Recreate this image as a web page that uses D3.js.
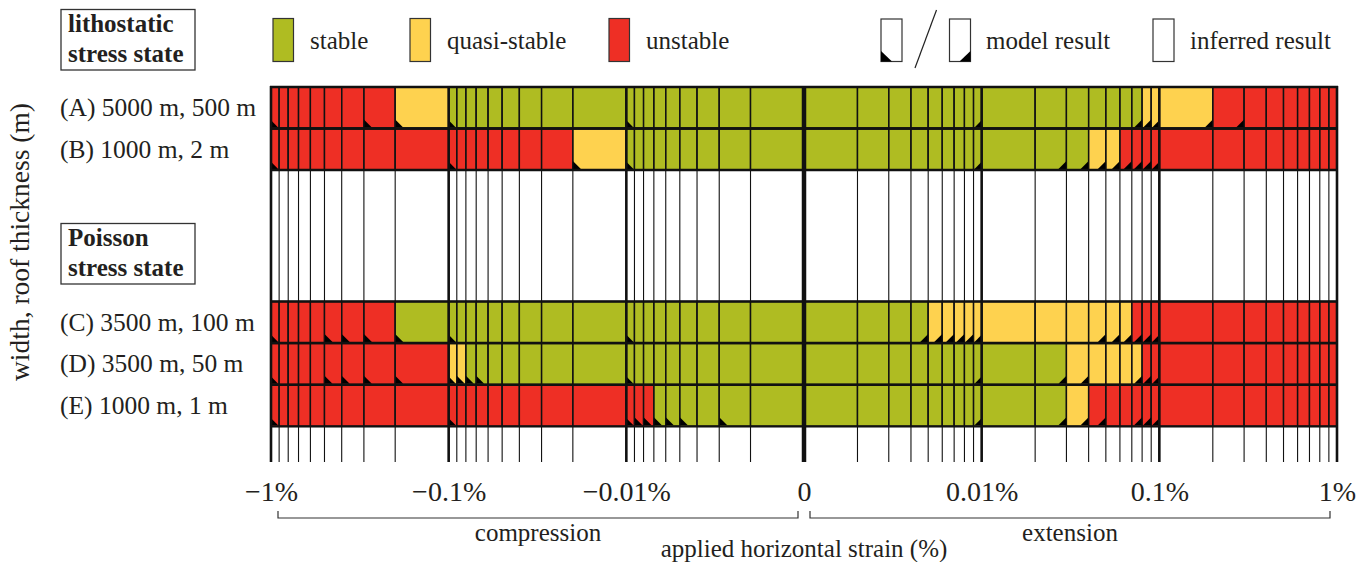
<!DOCTYPE html>
<html>
<head>
<meta charset="utf-8">
<script src="https://cdn.jsdelivr.net/npm/d3@7"></script>
<style>
  body { margin: 0; background: #fff; }
  svg { display: block; font-family: "Liberation Serif", "Times New Roman", serif; fill: #231f20; }
</style>
</head>
<body>
<svg id="chart" width="1367" height="562"></svg>
<script>
// tested horizontal strains (%), compression side then extension side
var strainsNeg = [-1, -0.9, -0.8, -0.7, -0.6, -0.5, -0.4, -0.3, -0.2,
                  -0.1, -0.09, -0.08, -0.07, -0.06, -0.05, -0.04, -0.03, -0.02,
                  -0.01, -0.009, -0.008, -0.007, -0.006, -0.005, -0.004, -0.003, -0.002];
var strainsPos = [0.002, 0.003, 0.004, 0.005, 0.006, 0.007, 0.008, 0.009, 0.01,
                  0.02, 0.03, 0.04, 0.05, 0.06, 0.07, 0.08, 0.09, 0.1,
                  0.2, 0.3, 0.4, 0.5, 0.6, 0.7, 0.8, 0.9, 1];

var rowKeys = ["A", "B", "C", "D", "E"];
var rowLabels = ["(A) 5000 m, 500 m", "(B) 1000 m, 2 m", "(C) 3500 m, 100 m", "(D) 3500 m, 50 m", "(E) 1000 m, 1 m"];

// s = stable, q = quasi-stable, u = unstable; one entry per strain, same order as above
var stateA = ["u","u","u","u","u","u","u","u","q", "s","s","s","s","s","s","s","s","s", "s","s","s","s","s","s","s","s","s",
              "s","s","s","s","s","s","s","s","s", "s","s","s","s","s","s","s","q","q", "q","u","u","u","u","u","u","u","u"];
var stateB = ["u","u","u","u","u","u","u","u","u", "u","u","u","u","u","u","u","u","q", "s","s","s","s","s","s","s","s","s",
              "s","s","s","s","s","s","s","s","s", "s","s","s","q","q","u","u","u","u", "u","u","u","u","u","u","u","u","u"];
var stateC = ["u","u","u","u","u","u","u","u","s", "s","s","s","s","s","s","s","s","s", "s","s","s","s","s","s","s","s","s",
              "s","s","s","s","q","q","q","q","q", "q","q","q","q","q","q","u","u","u", "u","u","u","u","u","u","u","u","u"];
var stateD = ["u","u","u","u","u","u","u","u","u", "q","q","s","s","s","s","s","s","s", "s","s","s","s","s","s","s","s","s",
              "s","s","s","s","s","s","s","s","s", "s","s","q","q","q","q","q","u","u", "u","u","u","u","u","u","u","u","u"];
var stateE = ["u","u","u","u","u","u","u","u","u", "u","u","u","u","u","u","u","u","u", "u","u","u","s","s","s","s","s","s",
              "s","s","s","s","s","s","s","s","s", "s","s","q","u","u","u","u","u","u", "u","u","u","u","u","u","u","u","u"];

// strains that were actually run in the model (the rest is inferred)
var modelA = [-1, -0.3, -0.2, -0.1, -0.01, 0.01, 0.08, 0.09, 0.1, 0.2, 0.3];
var modelB = [-1, -0.1, -0.02, -0.01, 0.01, 0.03, 0.04, 0.05, 0.06, 0.07, 0.08, 0.09, 0.1];
var modelC = [-1, -0.5, -0.4, -0.3, -0.2, -0.1, -0.01, 0.005, 0.006, 0.007, 0.008, 0.009, 0.01, 0.05, 0.06, 0.07, 0.08, 0.09, 0.1];
var modelD = [-1, -0.5, -0.4, -0.3, -0.2, -0.1, -0.09, -0.08, -0.07, -0.01, 0.01, 0.03, 0.04, 0.08, 0.09, 0.1];
var modelE = [-1, -0.1, -0.01, -0.009, -0.008, -0.007, -0.006, -0.005, -0.003, 0.01, 0.03, 0.04, 0.05, 0.08, 0.09, 0.1];

var tickValues = [-1, -0.1, -0.01, 0, 0.01, 0.1, 1];
var tickLabels = ["\u22121%", "\u22120.1%", "\u22120.01%", "0", "0.01%", "0.1%", "1%"];

var stateKeys = ["s", "q", "u"];
var stateNames = ["stable", "quasi-stable", "unstable"];
var stateColors = ["#afbc22", "#fed24f", "#ee2f25"];

var states = [stateA, stateB, stateC, stateD, stateE];
var models = [modelA, modelB, modelC, modelD, modelE];

var svg = d3.select("#chart");
var color = d3.scaleOrdinal().domain(stateKeys).range(stateColors);

// symmetric log axis: each decade same width, +-0.001% collapses onto 0
function u(v) { return v === 0 ? 0 : Math.sign(v) * (Math.log10(Math.abs(v)) + 3); }
var xs = d3.scaleLinear().domain([-3, 3]).range([271, 1337]);
function x(v) { return xs(u(v)); }

var yTop = d3.scaleBand().domain(["A", "B"]).range([87, 170]);
var yBot = d3.scaleBand().domain(["C", "D", "E"]).range([301.5, 426.5]);
function yRow(k) { return yTop.domain().indexOf(k) >= 0 ? yTop(k) : yBot(k); }
var rowH = yTop.bandwidth();

var lineVals = strainsNeg.concat([0], strainsPos);
var allStrains = strainsNeg.concat(strainsPos);

var cells = [];
rowKeys.forEach(function(k, r) {
  allStrains.forEach(function(s, j) {
    var p = lineVals.indexOf(s);
    var a = s < 0 ? lineVals[p] : lineVals[p - 1];
    var b = s < 0 ? lineVals[p + 1] : lineVals[p];
    cells.push({ row: k, s: s, x0: x(a), x1: x(b), state: states[r][j], model: models[r].indexOf(s) >= 0 });
  });
});

var g = svg.append("g");

g.selectAll("rect.cell").data(cells).enter().append("rect")
  .attr("class", "cell")
  .attr("x", function(d) { return d.x0; })
  .attr("y", function(d) { return yRow(d.row); })
  .attr("width", function(d) { return d.x1 - d.x0; })
  .attr("height", rowH)
  .attr("fill", function(d) { return color(d.state); })
  .attr("stroke", "#1a1a1a")
  .attr("stroke-width", 1.4);

// triangles mark model results, at the outer corner of each cell
var tri = 8;
g.selectAll("path.tri").data(cells.filter(function(d) { return d.model; })).enter().append("path")
  .attr("class", "tri")
  .attr("fill", "#000")
  .attr("d", function(d) {
    var yb = yRow(d.row) + rowH - 1;
    var t = Math.min(tri, d.x1 - d.x0 - 1);
    if (d.s < 0) return "M" + d.x0 + "," + yb + "V" + (yb - t) + "L" + (d.x0 + t) + "," + yb + "Z";
    return "M" + d.x1 + "," + yb + "V" + (yb - t) + "L" + (d.x1 - t) + "," + yb + "Z";
  });

// vertical grid through all rows
g.selectAll("line.v").data(lineVals).enter().append("line")
  .attr("x1", function(d) { return x(d); })
  .attr("x2", function(d) { return x(d); })
  .attr("y1", 86).attr("y2", 462)
  .attr("stroke", "#111")
  .attr("stroke-width", function(d) {
    if (d === 0) return 4.5;
    return tickValues.indexOf(d) >= 0 ? 2.6 : 1.1;
  });

// horizontal row borders
var borders = [];
rowKeys.forEach(function(k) { borders.push(yRow(k)); borders.push(yRow(k) + rowH); });
g.selectAll("line.h").data(borders).enter().append("line")
  .attr("x1", x(-1) - 1).attr("x2", x(1) + 1)
  .attr("y1", function(d) { return d; }).attr("y2", function(d) { return d; })
  .attr("stroke", "#111").attr("stroke-width", 2.4);

// row labels
svg.selectAll("text.row").data(rowKeys).enter().append("text")
  .attr("x", 60)
  .attr("y", function(d) { return yRow(d) + rowH / 2 + 8.5; })
  .attr("font-size", 25.5)
  .text(function(d, i) { return rowLabels[i]; });

// boxed group headings
function heading(top, l1, l2) {
  svg.append("rect").attr("x", 61).attr("y", top).attr("width", 134).attr("height", 60.5)
    .attr("fill", "none").attr("stroke", "#333").attr("stroke-width", 1.3);
  var t = svg.append("text").attr("font-size", 25).attr("font-weight", "bold");
  t.append("tspan").attr("x", 68).attr("y", top + 22.5).text(l1);
  t.append("tspan").attr("x", 68).attr("y", top + 52).text(l2);
}
heading(9.5, "lithostatic", "stress state");
heading(223.5, "Poisson", "stress state");

svg.append("text")
  .attr("transform", "translate(29," + 242 + ") rotate(-90)")
  .attr("text-anchor", "middle")
  .attr("font-size", 27.5)
  .text("width, roof thickness (m)");

// legend
var legX = [273, 410, 609];
var leg = svg.selectAll("g.leg").data(stateKeys).enter().append("g")
  .attr("transform", function(d, i) { return "translate(" + legX[i] + ",18.5)"; });
leg.append("rect").attr("width", 20.5).attr("height", 43)
  .attr("fill", function(d) { return color(d); })
  .attr("stroke", "#333").attr("stroke-width", 1.2);
leg.append("text").attr("x", 37).attr("y", 30).attr("font-size", 25)
  .text(function(d, i) { return stateNames[i]; });

function legBox(bx, corner) {
  svg.append("rect").attr("x", bx).attr("y", 19).attr("width", 21).attr("height", 42.5)
    .attr("fill", "#fff").attr("stroke", "#333").attr("stroke-width", 1.2);
  if (corner === "left")
    svg.append("path").attr("fill", "#000").attr("d", "M" + bx + ",61.5V51L" + (bx + 11) + ",61.5Z");
  if (corner === "right")
    svg.append("path").attr("fill", "#000").attr("d", "M" + (bx + 21) + ",61.5V51L" + (bx + 10) + ",61.5Z");
}
legBox(881, "left");
svg.append("line").attr("x1", 915).attr("y1", 68).attr("x2", 936.5).attr("y2", 10)
  .attr("stroke", "#222").attr("stroke-width", 1.2);
legBox(949.5, "right");
svg.append("text").attr("x", 986).attr("y", 48.5).attr("font-size", 25).text("model result");
legBox(1153, "none");
svg.append("text").attr("x", 1190).attr("y", 48.5).attr("font-size", 25).text("inferred result");

// x axis
var axis = d3.axisBottom(xs)
  .tickValues(tickValues.map(u))
  .tickFormat(function(d, i) { return tickLabels[i]; })
  .tickSize(0).tickPadding(19);
var ax = svg.append("g").attr("transform", "translate(0,462)").call(axis);
ax.select(".domain").remove();
ax.selectAll("text").attr("font-size", 28).attr("font-family", "Liberation Serif").attr("fill", "#231f20");

// compression / extension brackets
var brackets = [{ a: x(-1) + 7, b: x(0) - 6, name: "compression" }, { a: x(0) + 6, b: x(1) - 7, name: "extension" }];
svg.selectAll("path.br").data(brackets).enter().append("path")
  .attr("fill", "none").attr("stroke", "#333").attr("stroke-width", 1.2)
  .attr("d", function(d) { return "M" + d.a + ",511V518H" + d.b + "V511"; });
svg.selectAll("text.br").data(brackets).enter().append("text")
  .attr("x", function(d) { return (d.a + d.b) / 2; })
  .attr("y", 541).attr("text-anchor", "middle").attr("font-size", 25)
  .text(function(d) { return d.name; });

svg.append("text").attr("x", x(0)).attr("y", 557).attr("text-anchor", "middle")
  .attr("font-size", 25).text("applied horizontal strain (%)");
</script>
</body>
</html>
